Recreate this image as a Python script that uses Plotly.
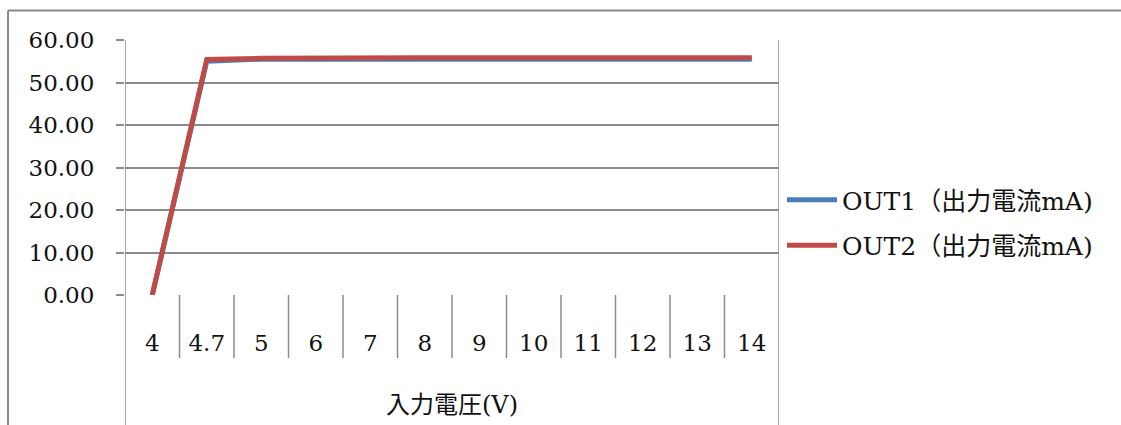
import plotly.graph_objects as go

categories = ["4", "4.7", "5", "6", "7", "8", "9", "10", "11", "12", "13", "14"]
out1 = [0.0, 55.0, 55.5, 55.5, 55.5, 55.5, 55.5, 55.5, 55.5, 55.5, 55.5, 55.5]
out2 = [0.0, 55.4, 55.7, 55.8, 55.8, 55.8, 55.8, 55.8, 55.8, 55.8, 55.8, 55.8]
series_names = ["OUT1（出力電流mA)", "OUT2（出力電流mA)"]
y_ticks = [0, 10, 20, 30, 40, 50, 60]
x_title = "入力電圧(V)"

FONT = "DejaVu Serif, Noto Sans CJK JP, serif"
FS = 23
GRID = "#8c8c8c"

idx = list(range(len(categories)))

fig = go.Figure()
fig.add_trace(go.Scatter(x=idx, y=out1, mode="lines", name=series_names[0], legendgroup="a",
                         line=dict(color="#4a7ebb", width=5)))
fig.add_trace(go.Scatter(x=idx, y=out2, mode="lines", name=series_names[1], legendgroup="b",
                         line=dict(color="#be4b48", width=5)))

W, H = 1121, 425
L, R, T, B = 125, 779, 40, 295
pw, ph = R - L, B - T

def px_x(px):
    return (px - L) / pw

def px_y(py):
    return (B - py) / ph

shapes = []
# category separators
for i in range(len(categories) - 1):
    shapes.append(dict(type="line", xref="x", yref="paper", x0=i + 0.5, x1=i + 0.5,
                       y0=0, y1=px_y(358), line=dict(color=GRID, width=1.5)))
# outer edges of category table
for xv in (-0.5, len(categories) - 0.5):
    shapes.append(dict(type="line", xref="x", yref="paper", x0=xv, x1=xv,
                       y0=1, y1=px_y(H + 2), line=dict(color=GRID, width=1.5)))
# outer chart frame
shapes.append(dict(type="line", xref="paper", yref="paper", x0=px_x(8), x1=px_x(W + 5),
                   y0=px_y(10.5), y1=px_y(10.5), line=dict(color="#8a8a8a", width=2)))
shapes.append(dict(type="line", xref="paper", yref="paper", x0=px_x(8), x1=px_x(8),
                   y0=px_y(10.5), y1=px_y(H + 5), line=dict(color="#8a8a8a", width=2)))

fig.update_layout(
    width=W, height=H,
    margin=dict(l=L, r=W - R, t=T, b=H - B, pad=0),
    paper_bgcolor="white", plot_bgcolor="white",
    font=dict(family=FONT, size=FS, color="#111"),
    showlegend=True,
    legend=dict(x=px_x(782), y=px_y(177), xanchor="left", yanchor="top",
                font=dict(family=FONT, size=25), tracegroupgap=10,
                itemwidth=50, bgcolor="rgba(0,0,0,0)"),
    shapes=shapes,
    annotations=[dict(text=x_title, xref="paper", yref="paper", x=0.5, y=px_y(405),
                      xanchor="center", yanchor="middle", showarrow=False,
                      font=dict(family=FONT, size=24))],
)
fig.update_xaxes(range=[-0.5, len(categories) - 0.5], tickvals=idx, ticktext=categories,
                 ticks="outside", ticklen=27, tickcolor="rgba(0,0,0,0)",
                 showgrid=False, zeroline=False, showline=False, fixedrange=True)
fig.update_yaxes(range=[0, 60], tickvals=y_ticks, tickformat=".2f",
                 ticks="outside", ticklen=8, tickcolor=GRID, tickwidth=1.5,
                 showgrid=True, gridcolor=GRID, gridwidth=1.5,
                 zeroline=False, showline=False, ticklabelstandoff=17, fixedrange=True)

fig.write_html("out.html")
